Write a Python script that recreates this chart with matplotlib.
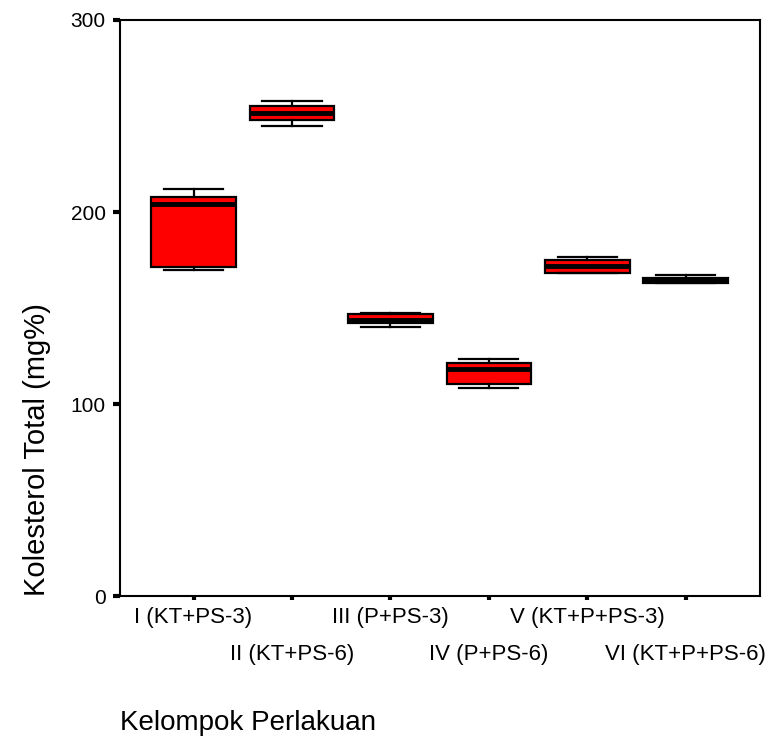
import matplotlib
matplotlib.use("Agg")
import matplotlib.pyplot as plt

plt.rcParams['font.family'] = ['Liberation Sans', 'DejaVu Sans']

# data (mg%)
groups = ["I (KT+PS-3)", "II (KT+PS-6)", "III (P+PS-3)",
          "IV (P+PS-6)", "V (KT+P+PS-3)", "VI (KT+P+PS-6)"]
whisker_low = [170, 245, 140, 108.5, 168.4, 163.2]
q1 = [171.5, 248, 142, 110.4, 168.4, 163.2]
median = [204, 251.5, 144, 118.5, 171.7, 164.5]
q3 = [208, 255, 147, 121.5, 175, 165.8]
whisker_high = [212, 258, 147.7, 123.3, 176.4, 167]

stats = []
for i, name in enumerate(groups):
    stats.append({"label": name,
                  "whislo": whisker_low[i], "q1": q1[i], "med": median[i],
                  "q3": q3[i], "whishi": whisker_high[i], "fliers": []})

fig = plt.figure(figsize=(7.72, 7.38), dpi=100)
ax = fig.add_axes([0.155, 0.192, 0.829, 0.781])

ax.bxp(stats, positions=range(1, len(groups) + 1), widths=0.86,
       capwidths=0.6, patch_artist=True, showfliers=False,
       boxprops=dict(facecolor="#ff0000", edgecolor="black", linewidth=1.6),
       medianprops=dict(color="black", linewidth=3.5),
       whiskerprops=dict(color="black", linewidth=1.6),
       capprops=dict(color="black", linewidth=1.6))

ax.set_xlim(0.25, 6.75)
ax.set_ylim(0, 300)
ax.set_yticks([0, 100, 200, 300])
ax.set_xticks(range(1, len(groups) + 1))
ax.set_xticklabels(groups, fontsize=16)
ax.tick_params(axis="y", direction="out", length=5, width=3, labelsize=15, pad=5)
ax.tick_params(axis="x", direction="out", length=3, width=3, pad=5)
# stagger the category labels on two rows
for i, tick in enumerate(ax.xaxis.get_major_ticks()):
    if i % 2 == 1:
        tick.set_pad(31)
for sp in ax.spines.values():
    sp.set_linewidth(1.5)

ax.set_ylabel("Kolesterol Total (mg%)", fontsize=21, loc="bottom", labelpad=14)
fig.text(120 / 772, 0.003, "Kelompok Perlakuan", fontsize=20, ha="left", va="bottom")

fig.savefig("out.png", dpi=100)
